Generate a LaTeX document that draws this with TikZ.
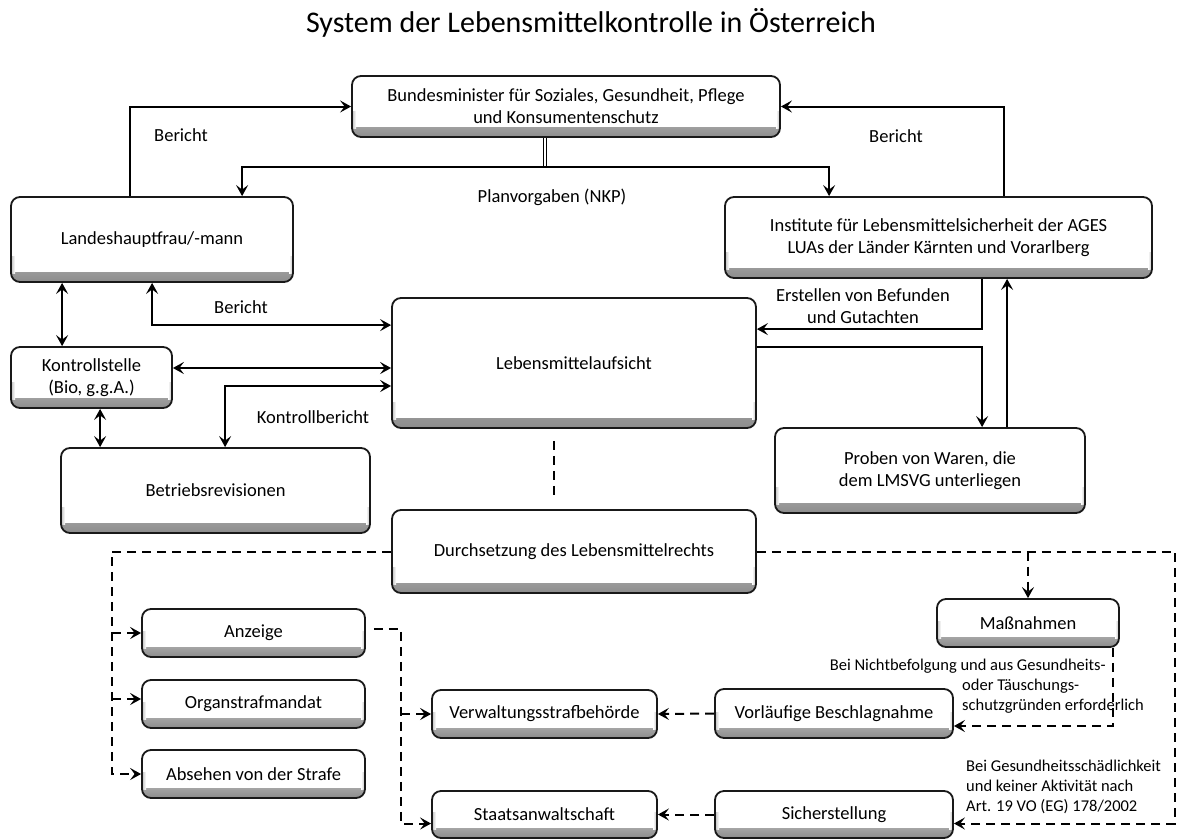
\documentclass[tikz,border=0pt]{standalone}
\usepackage{fontspec}
\setmainfont{Carlito}
\usetikzlibrary{arrows.meta,calc}
\tikzset{
  box/.style={draw=black!90, line width=1.8pt, rounded corners=9pt, fill=white, align=center, inner sep=0pt,
    font=\fontsize{18.5}{22}\selectfont,
    path picture={
      \shade[sharp corners, top color=white, bottom color=black!45]
        (path picture bounding box.south west) rectangle ([yshift=10pt]path picture bounding box.south east);
      \shade[sharp corners, left color=black!25, right color=white]
        ([yshift=9pt]path picture bounding box.south west) rectangle ([xshift=4pt,yshift=26pt]path picture bounding box.south west);
      \shade[sharp corners, right color=black!25, left color=white]
        ([yshift=9pt]path picture bounding box.south east) rectangle ([xshift=-4pt,yshift=26pt]path picture bounding box.south east);
    }},
  con/.style={line width=2pt, draw=black},
  tip/.style={-{Stealth[length=11pt,width=12pt,inset=4.5pt]}},
  tips/.style={{Stealth[length=11pt,width=12pt,inset=4.5pt]}-{Stealth[length=11pt,width=12pt,inset=4.5pt]}},
  dsh/.style={line width=2pt, dash pattern=on 9pt off 6pt},
  lbl/.style={font=\fontsize{18.5}{22}\selectfont, inner sep=0pt, align=center},
  slbl/.style={font=\fontsize{16.5}{20}\selectfont, inner sep=0pt, align=left},
}
\begin{document}
\begin{tikzpicture}[x=1pt,y=-1pt]
\fill[white] (0,0) rectangle (1178,839);
\useasboundingbox (0,0) rectangle (1178,839);

% title
\node[anchor=base, inner sep=0pt, font=\fontsize{30}{36}\selectfont] (title) at (591,32) {System der Lebensmittelkontrolle in Österreich};

% boxes
\node[box, minimum width=428pt, minimum height=61pt] (bm) at (566,106.5) {Bundesminister für Soziales, Gesundheit, Pflege\\und Konsumentenschutz};
\node[box, minimum width=282pt, minimum height=85pt] (lh) at (152,239.5) {Landeshauptfrau/-mann};
\node[box, minimum width=427pt, minimum height=81pt] (inst) at (938.5,237.5) {Institute für Lebensmittelsicherheit der AGES\\LUAs der Länder Kärnten und Vorarlberg};
\node[box, minimum width=364pt, minimum height=130pt] (lma) at (574,363) {Lebensmittelaufsicht};
\node[box, minimum width=161pt, minimum height=61pt] (ks) at (91.5,377.5) {Kontrollstelle\\(Bio, g.g.A.)};
\node[box, minimum width=309pt, minimum height=85pt] (br) at (215.5,490.5) {Betriebsrevisionen};
\node[box, minimum width=310pt, minimum height=85pt] (pr) at (930,470.5) {Proben von Waren, die\\dem LMSVG unterliegen};
\node[box, minimum width=364pt, minimum height=83pt] (ds) at (574,551.5) {Durchsetzung des Lebensmittelrechts};
\node[box, minimum width=223pt, minimum height=48pt] (anz) at (253.5,633) {Anzeige};
\node[box, minimum width=223pt, minimum height=48pt] (org) at (253.5,704) {Organstrafmandat};
\node[box, minimum width=223pt, minimum height=48pt] (abs) at (253.5,774) {Absehen von der Strafe};
\node[box, minimum width=225pt, minimum height=48pt] (vw) at (544.5,714) {Verwaltungsstrafbehörde};
\node[box, minimum width=225pt, minimum height=47pt] (sa) at (544.5,814.5) {Staatsanwaltschaft};
\node[box, minimum width=182pt, minimum height=48pt] (mas) at (1028,623) {Maßnahmen};
\node[box, minimum width=238pt, minimum height=49pt] (vb) at (834,713.5) {Vorläufige Beschlagnahme};
\node[box, minimum width=238pt, minimum height=47pt] (si) at (834,814.5) {Sicherstellung};

% bus coordinates
\coordinate (pv) at (545,167);
\coordinate (lbus) at (112,0);
\coordinate (mbus) at (401,0);
\coordinate (rbus) at (1175,0);
\coordinate (sin) at ([yshift=-9pt]si.east);

% top connectors
\draw[con,tip] ([xshift=120pt]lh.north west) |- (bm.west);
\draw[con,tip] ([xshift=280pt]inst.north west) |- (bm.east);
\draw[line width=0.9pt, double, double distance=2.4pt] (pv |- bm.south) -- (pv);
\draw[con,tip] (pv) -| ([xshift=232pt]lh.north west);
\draw[con,tip] (pv) -| ([xshift=105pt]inst.north west);

% left side
\draw[con,tips] ([xshift=52pt]lh.south west) -- ([xshift=52pt]lh.south west |- ks.north);
\draw[con,tips] ([xshift=142pt]lh.south west) |- ([yshift=-28pt]lma.north west);
\draw[con,tips] ([yshift=9.5pt]ks.east) -- ([yshift=9.5pt]ks.east -| lma.west);
\draw[con,tips] ([yshift=-23pt]lma.west) -| ([xshift=165pt]br.north west);
\draw[con,tips] ([xshift=90pt]ks.south west) -- ([xshift=90pt]ks.south west |- br.north);

% right side
\draw[con,tip] ([xshift=258pt]inst.south west) |- ([yshift=-32pt]lma.north east);
\draw[con,tip] ([yshift=-50pt]lma.north east) -| ([xshift=208pt]pr.north west);
\draw[con,tip] ([xshift=233pt]pr.north west) -- ([xshift=233pt]pr.north west |- inst.south);

% enforcement
\draw[dsh] ([xshift=-20pt,yshift=-12pt]lma.south) -- ([xshift=-20pt,yshift=10pt]ds.north);
\draw[dsh,tip] (ds.west) -| (lbus |- abs.west) -- (abs.west);
\draw[dsh,tip] (lbus |- anz.west) -- (anz.west);
\draw[dsh,tip] ([yshift=5pt]lbus |- org.west) -- ([yshift=5pt]org.west);
\draw[dsh,tip] ([xshift=8pt,yshift=4pt]anz.east) -| (mbus |- sin) -- (sa.west |- sin);
\draw[dsh,tip] (mbus |- vw.west) -- (vw.west);
\draw[dsh,tip] (vb.west) -- (vw.east);
\draw[dsh,tip] (si.west) -- (sa.east);
\draw[dsh,tip] (ds.east) -| (rbus |- sin) -- (sin);
\draw[dsh,tip] (mas.north |- ds.east) -- (mas.north);
\draw[dsh,tip] ([xshift=-7pt]mas.south east) |- ([yshift=-12.5pt]vb.east);

% labels
\node[lbl] (l1) at (181,135) {Bericht};
\node[lbl] (l2) at (896,136) {Bericht};
\node[lbl] (l3) at (552,197) {Planvorgaben (NKP)};
\node[lbl] (l4) at (241,307) {Bericht};
\node[lbl] (l5) at (313,417) {Kontrollbericht};
\node[lbl] (l6) at (863,306.5) {Erstellen von Befunden\\und Gutachten};
\node[slbl, anchor=east] (l7) at (1106,666) {Bei Nichtbefolgung und aus Gesundheits-};
\node[slbl, anchor=west] (l8) at (962,696.5) {oder Täuschungs-\\schutzgründen erforderlich};
\node[slbl, anchor=west] (l9) at (966,787) {Bei Gesundheitsschädlichkeit\\und keiner Aktivität nach\\Art. 19 VO (EG) 178/2002};
\end{tikzpicture}
\end{document}
